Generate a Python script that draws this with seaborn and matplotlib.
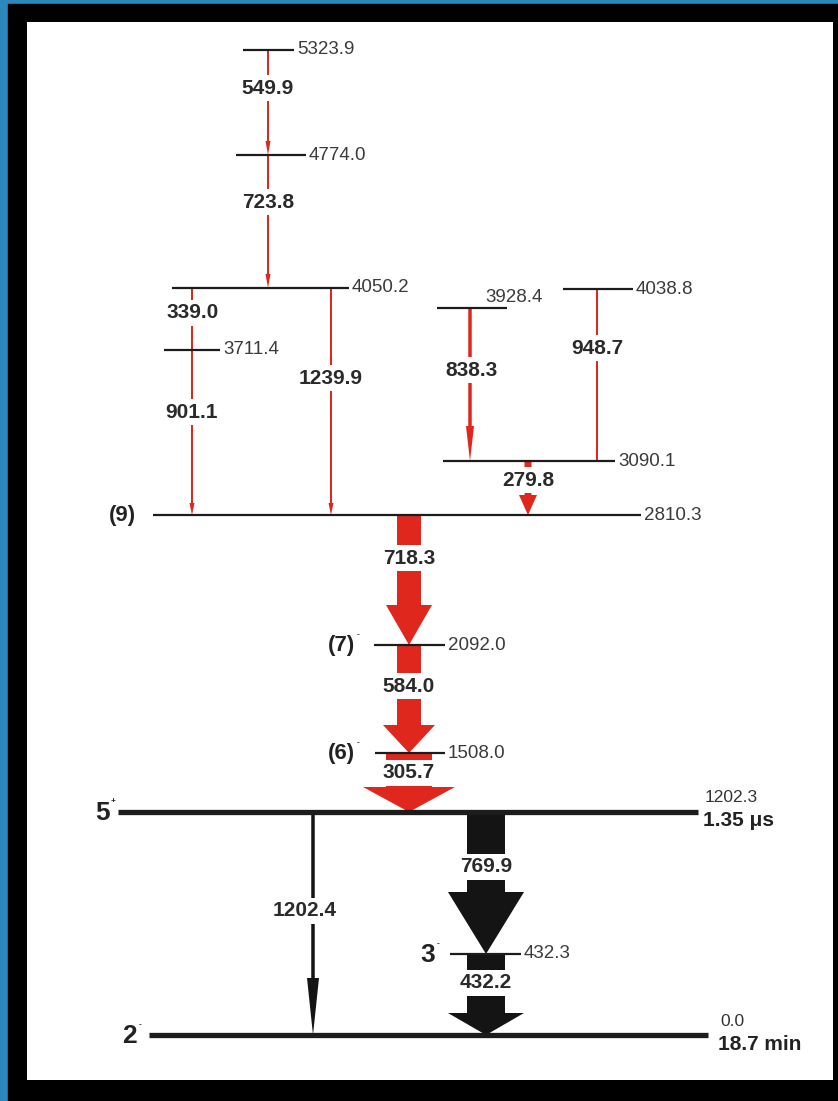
import matplotlib
matplotlib.use("Agg")
import matplotlib.pyplot as plt
import seaborn as sns
from matplotlib import font_manager
from matplotlib.patches import Polygon, Rectangle

# Уровни (энергия, кэВ), спины и чётности
level_energy = [5323.9, 4774.0, 4050.2, 4038.8, 3928.4, 3711.4, 3090.1,
                2810.3, 2092.0, 1508.0, 1202.3, 432.3, 0.0]
level_spin = ["", "", "", "", "", "", "", "(9)", "(7)", "(6)", "5", "3", "2"]
level_parity = ["", "", "", "", "", "", "", "", "-", "-", "+", "-", "-"]
level_halflife = {1202.3: "1.35 μs", 0.0: "18.7 min"}

# Гамма-переходы
gamma_energy = [549.9, 723.8, 339.0, 901.1, 1239.9, 838.3, 948.7, 279.8,
                718.3, 584.0, 305.7, 769.9, 1202.4, 432.2]
gamma_from = [5323.9, 4774.0, 4050.2, 3711.4, 4050.2, 3928.4, 4038.8, 3090.1,
              2810.3, 2092.0, 1508.0, 1202.3, 1202.3, 432.3]
gamma_to = [4774.0, 4050.2, 3711.4, 2810.3, 2810.3, 3090.1, 3090.1, 2810.3,
            2092.0, 1508.0, 1202.3, 432.3, 0.0, 0.0]

# Схематическая раскладка (в пикселях белой панели)
level_y = [50, 155, 288, 289, 308, 350, 461, 515, 645, 753, 812, 954, 1035]
level_x0 = [243, 236, 172, 563, 437, 164, 443, 153, 374, 375, 118, 450, 149]
level_x1 = [294, 306, 349, 633, 507, 220, 615, 641, 445, 445, 698, 521, 708]
level_lw = [1.6] * 10 + [3.8, 1.6, 3.8]
spin_x = [0, 0, 0, 0, 0, 0, 0, 136, 355, 355, 110, 435, 137]
parity_x = [0, 0, 0, 0, 0, 0, 0, 0, 357, 357, 111, 437, 139]

gamma_x = [268, 268, 192, 192, 331, 470, 597, 528, 409, 409, 409, 486, 313, 486]
gamma_label_x = [268, 268, 193, 192, 331, 471, 597, 528, 409, 409, 409, 486, 305, 486]
gamma_label_y = [88, 202, 313, 412, 378, 370, 348, 480, 558, 686, 773, 867, 911, 983]
gamma_shaft = [2, 2, 2, 2, 2, 3.5, 1.6, 7, 24, 24, 46, 38, 3.5, 38]
gamma_head_w = [5, 5, 0, 5, 5, 8, 0, 18, 46, 52, 92, 76, 12, 76]
gamma_head_len = [14, 14, 0, 12, 12, 35, 0, 20, 40, 28, 25, 62, 57, 22]
RED = "#e0271d"
BLK = "#141414"
gamma_color = [RED] * 11 + [BLK, BLK, BLK]

sns.set_style("white")
names = {f.name for f in font_manager.fontManager.ttflist}
NARROW = "Liberation Sans Narrow" if "Liberation Sans Narrow" in names else "Liberation Sans"
plt.rcParams["font.family"] = ["Liberation Sans", "DejaVu Sans"]

W, H = 838, 1101
fig = plt.figure(figsize=(W / 100, H / 100), dpi=100)
fig.patch.set_facecolor("#2c87bd")

# рамка
bg = fig.add_axes([0, 0, 1, 1])
bg.set_xlim(0, W)
bg.set_ylim(H, 0)
bg.axis("off")
bg.add_patch(Rectangle((8, 4), W - 8, H - 4, color="black"))

ax = fig.add_axes([27 / W, (H - 1080) / H, (833 - 27) / W, (1080 - 22) / H])
ax.set_facecolor("white")
ax.set_xlim(27, 833)
ax.set_ylim(1080, 22)
ax.set_xticks([])
ax.set_yticks([])
sns.despine(ax=ax, left=True, bottom=True)

ypos = dict(zip(level_energy, level_y))

# Стрелки переходов
for i, e in enumerate(gamma_energy):
    c = gamma_x[i]
    top = ypos[gamma_from[i]]
    tip = ypos[gamma_to[i]]
    s = gamma_shaft[i] / 2
    h = gamma_head_w[i] / 2
    L = gamma_head_len[i]
    if h > s:
        pts = [(c - s, top), (c + s, top), (c + s, tip - L), (c + h, tip - L),
               (c, tip), (c - h, tip - L), (c - s, tip - L)]
    else:
        pts = [(c - s, top), (c + s, top), (c + s, tip), (c - s, tip)]
    ax.add_patch(Polygon(pts, closed=True, facecolor=gamma_color[i],
                         edgecolor="none", zorder=2))
    ax.text(gamma_label_x[i], gamma_label_y[i], f"{e:.1f}", ha="center", va="center",
            fontsize=15, fontweight="bold", color="#2a2a2a", zorder=4,
            bbox=dict(facecolor="white", edgecolor="none", pad=2.5))

# Уровни
for i, e in enumerate(level_energy):
    y = level_y[i]
    ax.plot([level_x0[i], level_x1[i]], [y, y], color="#1c1c1c",
            lw=level_lw[i], solid_capstyle="butt", zorder=3)
    if e in level_halflife:
        lx = level_x1[i] + 7 if e > 0 else level_x1[i] + 12
        ax.text(lx, y - 14, f"{e:.1f}", ha="left", va="center", family=NARROW,
                fontsize=12.5, color="#333333")
        ax.text(lx - 2, y + 9, level_halflife[e], ha="left", va="center",
                family=NARROW, fontsize=15, fontweight="bold", color="#222222")
    elif e == 3928.4:
        ax.text(485, y - 11, f"{e:.1f}", ha="left", va="center",
                fontsize=13.5, color="#3a3a3a")
    else:
        ax.text(level_x1[i] + 3, y, f"{e:.1f}", ha="left", va="center",
                fontsize=13.5, color="#3a3a3a")
    if level_spin[i]:
        paren = level_spin[i].startswith("(")
        ax.text(spin_x[i], y + 1, level_spin[i], ha="right", va="center",
                family="Liberation Sans" if paren else NARROW,
                fontsize=16 if paren else 19,
                fontweight="bold", color="#222222")
    if level_parity[i]:
        ax.text(parity_x[i], y - 10, level_parity[i], ha="left", va="center",
                fontsize=6, fontweight="bold", color="#222222")

fig.savefig("out.png", dpi=100, facecolor=fig.get_facecolor())
